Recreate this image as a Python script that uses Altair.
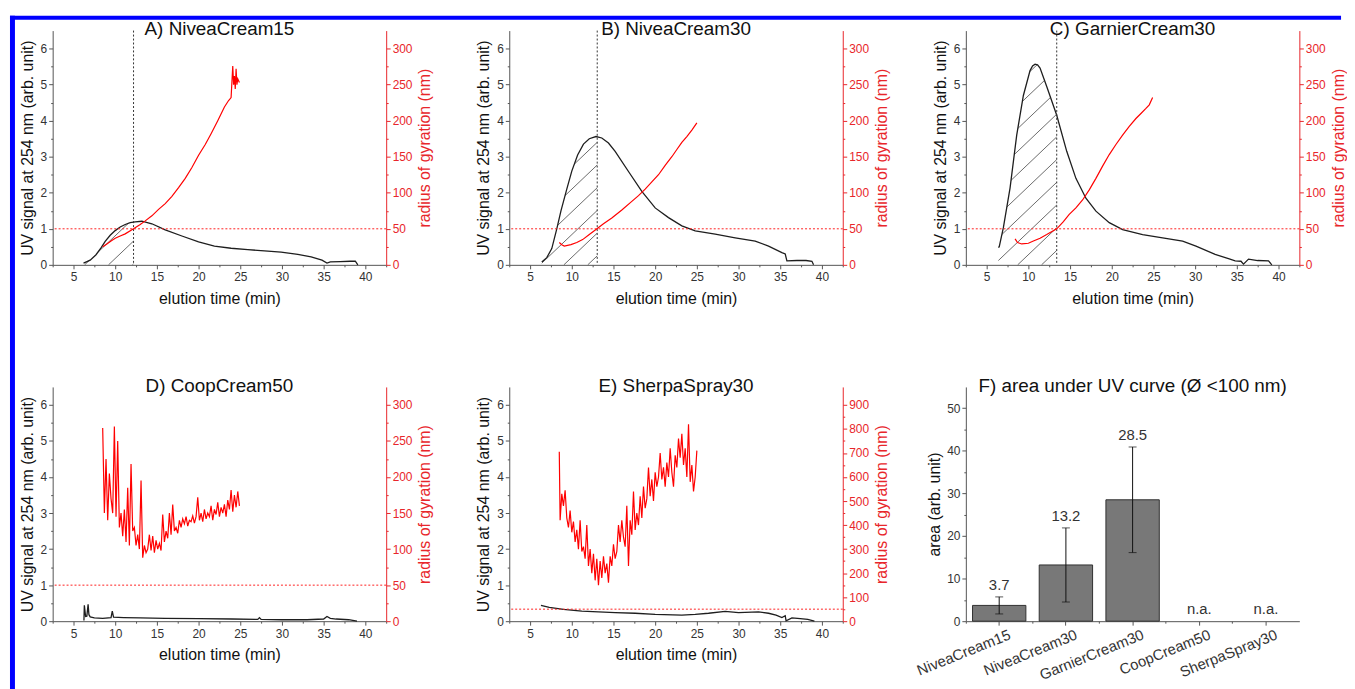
import altair as alt
import numpy as np
import pandas as pd

# ---------------- data ----------------
X_TICKS = [5, 10, 15, 20, 25, 30, 35, 40]
X_MINOR = [2.5, 7.5, 12.5, 17.5, 22.5, 27.5, 32.5, 37.5, 42.5]
UV_TICKS = [0, 1, 2, 3, 4, 5, 6]
UV_MINOR = [0.5, 1.5, 2.5, 3.5, 4.5, 5.5]
RG_TICKS = [0, 50, 100, 150, 200, 250, 300]
RG_MINOR = [25, 75, 125, 175, 225, 275]
RG_TICKS_E = [0, 100, 200, 300, 400, 500, 600, 700, 800, 900]
RG_MINOR_E = [50, 150, 250, 350, 450, 550, 650, 750, 850]

# A) NiveaCream15
A_uv_t = [6.2, 7.0, 7.7, 8.3, 8.8, 9.4, 10.0, 10.6, 11.2, 11.8, 12.4, 13.2, 14.4, 16.0, 18.0, 20.0,
          21.9, 23.9, 25.9, 27.9, 29.9, 31.9, 33.5, 34.8, 35.4, 35.8, 37.0, 38.2, 38.8, 39.1]
A_uv_v = [0.05, 0.13, 0.28, 0.47, 0.65, 0.82, 0.95, 1.05, 1.12, 1.17, 1.19, 1.21, 1.14, 0.97, 0.80, 0.64,
          0.52, 0.46, 0.42, 0.39, 0.35, 0.29, 0.22, 0.13, 0.05, 0.08, 0.09, 0.10, 0.10, 0.0]
A_rg_t = [8.5, 9.0, 9.5, 10.0, 10.6, 11.2, 12.2, 13.0, 13.6, 14.4, 15.2, 16.0, 16.8, 17.6, 18.4, 19.2,
          20.0, 20.8, 21.5, 22.3, 23.1, 23.6, 23.9, 24.1, 24.2, 24.3, 24.4, 24.5, 24.6, 24.7, 24.9]
A_rg_v = [25, 29, 33, 37, 40, 43, 50, 56, 61, 68, 77, 85, 95, 107, 120, 135,
          152, 167, 182, 200, 219, 228, 232, 276, 250, 262, 244, 272, 250, 258, 253]
A_cut = 12.2

# B) NiveaCream30
B_uv_t = [6.4, 7.0, 7.6, 8.2, 8.7, 9.4, 10.0, 10.7, 11.4, 12.1, 12.9, 13.6, 14.4, 15.2, 16.8, 18.4,
          20.0, 21.6, 23.2, 24.8, 27.2, 29.6, 32.0, 33.6, 35.2, 35.6, 35.8, 37.0, 38.1, 38.8, 39.0]
B_uv_v = [0.08, 0.20, 0.45, 1.00, 1.50, 2.10, 2.60, 3.05, 3.35, 3.50, 3.56, 3.52, 3.38, 3.15, 2.59, 2.04,
          1.58, 1.31, 1.08, 0.94, 0.85, 0.75, 0.66, 0.52, 0.34, 0.30, 0.11, 0.12, 0.12, 0.10, 0.0]
B_rg_t = [8.5, 8.8, 9.1, 9.9, 10.6, 11.3, 12.1, 12.9, 13.8, 14.8, 16.0, 17.2, 18.0, 18.8, 19.6, 20.4,
          21.2, 22.0, 22.6, 23.2, 23.8, 24.4, 25.0]
B_rg_v = [31, 28, 26, 28, 31, 35, 42, 49, 57, 65, 76, 88, 96, 105, 115, 125,
          138, 150, 160, 170, 178, 187, 197]
B_cut = 13.05

# C) GarnierCream30
C_uv_t = [6.4, 6.5, 7.0, 7.8, 8.6, 9.4, 10.2, 10.5, 10.8, 11.1, 11.4, 12.2, 13.4, 14.6, 15.7, 16.9,
          18.1, 19.7, 21.3, 23.7, 26.1, 28.5, 30.1, 32.4, 34.0, 34.8, 35.5, 35.8, 36.4, 37.5, 38.8, 39.2]
C_uv_v = [0.48, 0.50, 1.03, 2.13, 3.60, 4.70, 5.39, 5.52, 5.57, 5.55, 5.46, 4.95, 4.15, 3.15, 2.40, 1.85,
          1.49, 1.17, 0.98, 0.84, 0.75, 0.66, 0.52, 0.29, 0.17, 0.11, 0.10, 0.02, 0.16, 0.12, 0.11, 0.0]
C_rg_t = [8.4, 8.7, 9.2, 10.0, 10.6, 11.4, 12.2, 13.4, 14.2, 14.9, 15.7, 16.5, 17.3, 18.1, 18.9, 19.7,
          20.5, 21.3, 22.1, 22.9, 23.5, 24.1, 24.5, 24.9]
C_rg_v = [36, 31, 29, 30, 33, 37, 42, 50, 60, 70, 79, 90, 104, 120, 137, 153,
          167, 180, 192, 203, 210, 217, 222, 232]
C_cut = 13.4

# D) CoopCream50
D_uv_t = [6.25, 6.3, 6.45, 6.6, 6.75, 6.85, 7.0, 7.5, 8.5, 9.5, 9.65, 9.8, 11.0, 13.0, 16.0, 20.0,
          24.0, 27.1, 27.3, 27.5, 30.0, 33.0, 35.0, 35.4, 35.8, 36.5, 38.0, 39.0]
D_uv_v = [0.02, 0.44, 0.13, 0.14, 0.47, 0.18, 0.12, 0.09, 0.08, 0.10, 0.28, 0.11, 0.10, 0.09, 0.08, 0.07,
          0.06, 0.05, 0.10, 0.05, 0.04, 0.04, 0.06, 0.13, 0.08, 0.06, 0.04, 0.0]
D_rg_t = [8.5, 8.7, 8.9, 9.1, 9.3, 9.5, 9.7, 9.9, 10.1, 10.3, 10.5, 10.7, 10.9, 11.1, 11.3, 11.5,
          11.7, 11.9, 12.1, 12.3, 12.5, 12.7, 12.9, 13.1, 13.3, 13.5, 13.7, 13.9, 14.1, 14.3, 14.5, 14.7,
          14.9, 15.1, 15.3, 15.5, 15.7, 15.9, 16.1, 16.3, 16.5, 16.7, 16.9, 17.1, 17.3, 17.5, 17.7, 17.9,
          18.1, 18.3, 18.5, 18.7, 18.9, 19.1, 19.3, 19.5, 19.7, 19.9, 20.1, 20.3, 20.5, 20.7, 20.9, 21.1,
          21.3, 21.5, 21.7, 21.9, 22.1, 22.3, 22.5, 22.7, 22.9, 23.1, 23.3, 23.5, 23.7, 23.9, 24.1, 24.3,
          24.5, 24.7, 24.9]
D_rg_v = [268, 150, 225, 140, 205, 170, 150, 270, 145, 250, 130, 150, 118, 155, 110, 185,
          105, 218, 125, 130, 105, 120, 100, 195, 88, 105, 95, 100, 120, 98, 118, 95,
          112, 100, 108, 98, 148, 110, 125, 115, 150, 120, 162, 125, 130, 122, 140, 130,
          142, 135, 145, 132, 140, 138, 146, 136, 145, 172, 140, 150, 138, 155, 142, 150,
          145, 160, 140, 155, 148, 165, 145, 158, 150, 162, 145, 168, 155, 182, 152, 175,
          158, 180, 160]

# E) SherpaSpray30
E_uv_t = [6.3, 7.3, 9.0, 11.2, 13.2, 15.2, 17.6, 20.0, 23.2, 24.8, 26.4, 28.4, 30.0, 32.4, 33.6, 34.5,
          35.2, 35.6, 35.7, 36.4, 37.4, 38.3, 39.1]
E_uv_v = [0.44, 0.38, 0.33, 0.28, 0.26, 0.24, 0.22, 0.19, 0.17, 0.19, 0.22, 0.27, 0.24, 0.26, 0.22, 0.17,
          0.10, 0.15, 0.01, 0.09, 0.07, 0.05, 0.0]
E_rg_t = [8.5, 8.6, 8.8, 9.0, 9.2, 9.4, 9.6, 9.8, 10.0, 10.2, 10.4, 10.6, 10.8, 11.0, 11.2, 11.4,
          11.6, 11.8, 12.0, 12.2, 12.4, 12.6, 12.8, 13.0, 13.2, 13.4, 13.6, 13.8, 14.0, 14.2, 14.4, 14.6,
          14.8, 15.0, 15.2, 15.4, 15.6, 15.8, 16.0, 16.2, 16.4, 16.6, 16.8, 17.0, 17.2, 17.4, 17.6, 17.8,
          18.0, 18.2, 18.4, 18.6, 18.8, 19.0, 19.2, 19.4, 19.6, 19.8, 20.0, 20.2, 20.4, 20.6, 20.8, 21.0,
          21.2, 21.4, 21.6, 21.8, 22.0, 22.2, 22.4, 22.6, 22.8, 23.0, 23.2, 23.4, 23.6, 23.8, 24.0, 24.2,
          24.4, 24.6, 24.8, 25.0]
E_rg_v = [705, 420, 530, 480, 545, 430, 390, 460, 370, 415, 330, 380, 300, 420, 290, 310,
          260, 400, 230, 300, 200, 280, 170, 260, 150, 250, 180, 270, 200, 240, 160, 270,
          230, 320, 260, 290, 400, 330, 420, 350, 310, 480, 230, 420, 360, 540, 380, 450,
          400, 520, 430, 560, 470, 510, 640, 520, 590, 500, 620, 560, 600, 700, 590, 640,
          560, 660, 600, 720, 620, 560, 690, 640, 760, 680, 780, 650, 720, 600, 820, 580,
          650, 540, 600, 710]

# F) bar chart
F_NAMES = ["NiveaCream15", "NiveaCream30", "GarnierCream30", "CoopCream50", "SherpaSpray30"]
F_AREA = [3.7, 13.2, 28.5, None, None]
F_ERR = [2.0, 8.7, 12.4, None, None]
F_LABELS = ["3.7", "13.2", "28.5", "n.a.", "n.a."]
F_TICKS = [0, 10, 20, 30, 40, 50]
F_MINOR = [5, 15, 25, 35, 45]

# ---------------- style ----------------
FONT = "Liberation Sans"
RED = "#ff0000"
RED_AX = "#e8262b"
BLACK = "#1e1e1e"
AX = "#555555"
LBL = "#333333"
HATCH = "#5a5a5a"
BLUE = "#0000ff"
W, H = 336, 236
ROW_GAP, COL_GAP = 123, 124
X_DOM = [2.5, 42.5]
UV_DOM = [0, 6.5]


def hatch_segments(T, V, t_cut, offset, spacing=0.63, slope=0.22):
    ts = np.linspace(T[0], t_cut, 1500)
    curve = np.interp(ts, T, V)
    segs = {"t1": [], "v1": [], "t2": [], "v2": []}
    for n in range(14):
        c = offset + n * spacing
        lv = c + slope * (ts - t_cut)
        idx = np.flatnonzero((lv >= 0) & (lv <= curve))
        if idx.size < 2:
            continue
        for r in np.split(idx, np.flatnonzero(np.diff(idx) > 1) + 1):
            if r.size < 2:
                continue
            segs["t1"].append(float(ts[r[0]]))
            segs["v1"].append(float(lv[r[0]]))
            segs["t2"].append(float(ts[r[-1]]))
            segs["v2"].append(float(lv[r[-1]]))
    return pd.DataFrame(segs)


def title_params(text):
    return alt.TitleParams(text=text, font=FONT, fontSize=19, fontWeight="normal", color="#111111",
                           frame="group", anchor="middle", baseline="middle", offset=-18)


def curve_panel(title, uv_t, uv_v, rg_t, rg_v, rg_max, rg_ticks, rg_minor, cut=None, hatch_off=None):
    xs = alt.Scale(domain=X_DOM, nice=False, zero=False)
    uvs = alt.Scale(domain=UV_DOM, nice=False, zero=False)
    rgs = alt.Scale(domain=[0, rg_max], nice=False, zero=False)
    uv = pd.DataFrame({"t": uv_t, "v": uv_v})
    rg = pd.DataFrame({"t": rg_t, "r": rg_v})

    x_major = alt.Axis(values=X_TICKS, title="elution time (min)", orient="bottom", tickSize=4,
                       labelPadding=3, titlePadding=8)
    x_minor = alt.Axis(values=X_MINOR, labels=False, title=None, orient="bottom", tickSize=2, domain=False)
    y_major = alt.Axis(values=UV_TICKS, title="UV signal at 254 nm (arb. unit)", orient="left",
                       tickSize=4, labelPadding=2, titlePadding=5)
    y_minor = alt.Axis(values=UV_MINOR, labels=False, title=None, orient="left", tickSize=2, domain=False)
    r_major = alt.Axis(values=rg_ticks, title="radius of gyration (nm)", orient="right", tickSize=4,
                       labelPadding=2, titlePadding=5, titleAngle=270, titleBaseline="top",
                       domainColor=RED_AX, tickColor=RED_AX, labelColor=RED_AX, titleColor=RED_AX)
    r_minor = alt.Axis(values=rg_minor, labels=False, title=None, orient="right", tickSize=2,
                       domain=False, tickColor=RED_AX)

    layers = []
    if cut is not None:
        hd = hatch_segments(uv_t, uv_v, cut, hatch_off)
        layers.append(alt.Chart(hd).mark_rule(color=HATCH, strokeWidth=0.9).encode(
            x=alt.X("t1:Q", scale=xs, axis=None), x2="t2:Q",
            y=alt.Y("v1:Q", scale=uvs, axis=None), y2="v2:Q"))
    layers.append(alt.Chart(uv).mark_line(color=BLACK, strokeWidth=1.3).encode(
        x=alt.X("t:Q", scale=xs, axis=x_major),
        y=alt.Y("v:Q", scale=uvs, axis=y_major)))
    layers.append(alt.Chart(uv).mark_line(strokeOpacity=0).encode(
        x=alt.X("t:Q", scale=xs, axis=x_minor),
        y=alt.Y("v:Q", scale=uvs, axis=y_minor)))
    if cut is not None:
        layers.append(alt.Chart(pd.DataFrame({"cut": [cut]})).mark_rule(
            color="#333333", strokeDash=[2, 2], strokeWidth=1).encode(
            x=alt.X("cut:Q", scale=xs, axis=None)))
    layers.append(alt.Chart(rg).mark_line(color=RED, strokeWidth=1.2).encode(
        x=alt.X("t:Q", scale=xs, axis=None),
        y=alt.Y("r:Q", scale=rgs, axis=r_major)))
    layers.append(alt.Chart(rg).mark_line(strokeOpacity=0).encode(
        x=alt.X("t:Q", scale=xs, axis=None),
        y=alt.Y("r:Q", scale=rgs, axis=r_minor)))
    layers.append(alt.Chart(pd.DataFrame({"limit": [50]})).mark_rule(
        color="#ff2020", strokeDash=[2, 2], strokeWidth=1).encode(
        y=alt.Y("limit:Q", scale=rgs, axis=None)))

    return (alt.layer(*layers)
            .resolve_scale(y="independent")
            .resolve_axis(x="independent", y="independent")
            .properties(width=W, height=H, title=title_params(title)))


def bar_panel():
    fdf = pd.DataFrame({"name": F_NAMES, "area": F_AREA, "err": F_ERR, "label": F_LABELS})
    fdf["area"] = fdf["area"].astype(float)
    fdf["err"] = fdf["err"].astype(float)
    fdf["lo"] = fdf["area"] - fdf["err"]
    fdf["hi"] = fdf["area"] + fdf["err"]
    fdf["ly"] = fdf["hi"].fillna(0.0)

    xs = alt.Scale(domain=F_NAMES, paddingInner=0, paddingOuter=0)
    ys = alt.Scale(domain=[0, 55], nice=False, zero=True)
    xax = alt.Axis(title=None, labelAngle=-22, labelAlign="right", labelBaseline="top", labelFontSize=15,
                   tickSize=4, labelPadding=2, bandPosition=0.5, labelOffset=8, orient="bottom")
    xmin = alt.Axis(title=None, labels=False, tickSize=2, domain=False, bandPosition=0, orient="bottom")
    yax = alt.Axis(values=F_TICKS, title="area (arb. unit)", orient="left", tickSize=4, labelPadding=2,
                   titlePadding=4)
    ymin = alt.Axis(values=F_MINOR, labels=False, title=None, orient="left", tickSize=2, domain=False)

    bars = alt.Chart(fdf).mark_bar(color="#787878", stroke="#303030", strokeWidth=1,
                                   width=alt.RelativeBandSize(0.8)).encode(
        x=alt.X("name:N", scale=xs, axis=xax),
        y=alt.Y("area:Q", scale=ys, axis=yax))
    minor = alt.Chart(fdf).mark_point(opacity=0).encode(
        x=alt.X("name:N", scale=xs, axis=xmin),
        y=alt.Y("area:Q", scale=ys, axis=ymin))
    err = alt.Chart(fdf).mark_rule(color="#111111", strokeWidth=1).encode(
        x=alt.X("name:N", scale=xs, axis=None),
        y=alt.Y("lo:Q", scale=ys, axis=None), y2="hi:Q")
    cap_lo = alt.Chart(fdf).mark_tick(color="#111111", size=8, thickness=1, orient="horizontal").encode(
        x=alt.X("name:N", scale=xs, axis=None),
        y=alt.Y("lo:Q", scale=ys, axis=None))
    cap_hi = alt.Chart(fdf).mark_tick(color="#111111", size=8, thickness=1, orient="horizontal").encode(
        x=alt.X("name:N", scale=xs, axis=None),
        y=alt.Y("hi:Q", scale=ys, axis=None))
    txt = alt.Chart(fdf).mark_text(font=FONT, fontSize=15, color="#333333", baseline="bottom", dy=-4).encode(
        x=alt.X("name:N", scale=xs, axis=None),
        y=alt.Y("ly:Q", scale=ys, axis=None),
        text="label:N")
    return (alt.layer(bars, minor, err, cap_lo, cap_hi, txt)
            .resolve_axis(x="independent", y="independent")
            .properties(width=W, height=H, title=title_params("F) area under UV curve (\u00d8 <100 nm)")))


pA = curve_panel("A) NiveaCream15", A_uv_t, A_uv_v, A_rg_t, A_rg_v, 325, RG_TICKS, RG_MINOR, A_cut, 0.03)
pB = curve_panel("B) NiveaCream30", B_uv_t, B_uv_v, B_rg_t, B_rg_v, 325, RG_TICKS, RG_MINOR, B_cut, 0.25)
pC = curve_panel("C) GarnierCream30", C_uv_t, C_uv_v, C_rg_t, C_rg_v, 325, RG_TICKS, RG_MINOR, C_cut, 0.40)
pD = curve_panel("D) CoopCream50", D_uv_t, D_uv_v, D_rg_t, D_rg_v, 325, RG_TICKS, RG_MINOR)
pE = curve_panel("E) SherpaSpray30", E_uv_t, E_uv_v, E_rg_t, E_rg_v, 975, RG_TICKS_E, RG_MINOR_E)
pF = bar_panel()

# blue frame of the original figure (pure decoration), drawn from an empty 7th cell whose
# origin sits two grid rows below panel A's plot corner
dy0 = 2 * (H + ROW_GAP)
frame_df = pd.DataFrame({"k": [0]})
top_edge = alt.Chart(frame_df).mark_rect(color=BLUE).encode(
    x=alt.value(-43), x2=alt.value(1298), y=alt.value(-15 - dy0), y2=alt.value(-11 - dy0))
left_edge = alt.Chart(frame_df).mark_rect(color=BLUE).encode(
    x=alt.value(-43), x2=alt.value(-38), y=alt.value(-15 - dy0), y2=alt.value(668 - dy0))
frame = alt.layer(top_edge, left_edge).properties(width=5, height=1)

chart = (alt.concat(pA, pB, pC, pD, pE, pF, frame, columns=3,
                    spacing={"row": ROW_GAP, "column": COL_GAP}, bounds="flush")
         .properties(padding={"left": 2, "top": 5, "right": 0, "bottom": 0}, background="white")
         .configure_view(stroke=None)
         .configure_axis(labelFont=FONT, titleFont=FONT, labelFontSize=12, titleFontSize=16,
                         titleFontWeight="normal", labelColor=LBL, titleColor="#111111",
                         domainColor=AX, tickColor=AX, grid=False, domainWidth=1, tickWidth=1)
         .configure_text(font=FONT))

chart.save("out.html", embed_options={"renderer": "svg", "actions": False})
